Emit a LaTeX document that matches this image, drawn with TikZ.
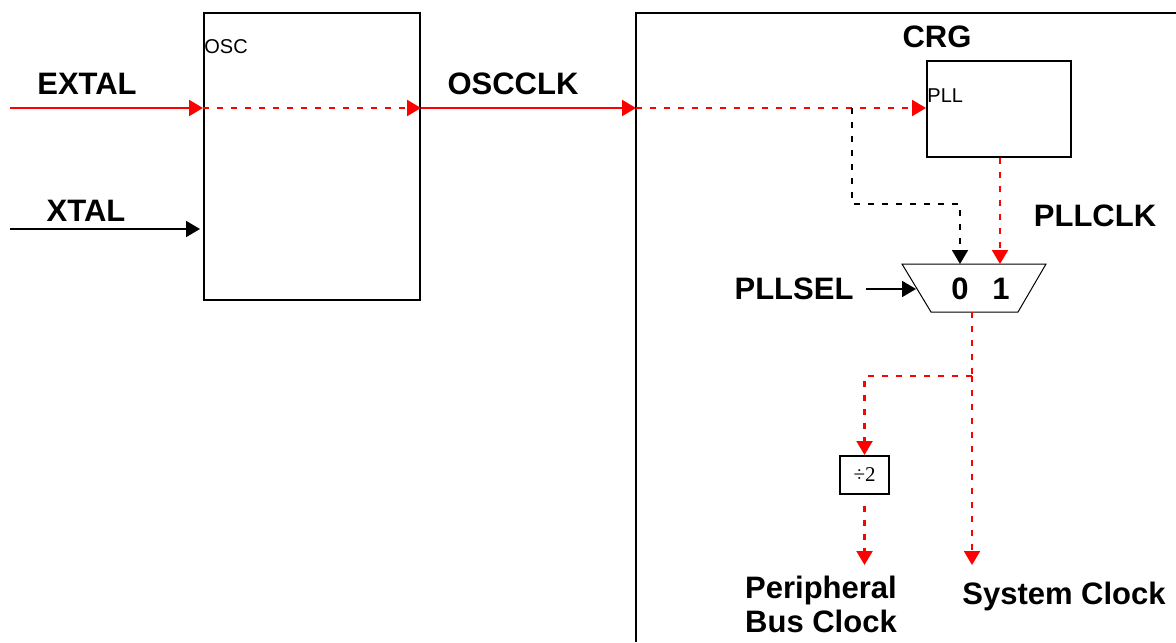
\documentclass[tikz,border=0pt]{standalone}
\usepackage{fontspec}
\setmainfont{Liberation Sans}
\newfontfamily\serifface{Liberation Serif}
\usetikzlibrary{arrows.meta, positioning, calc}
\definecolor{sigred}{HTML}{FF0000}
\definecolor{ink}{HTML}{000000}

\begin{document}
\begin{tikzpicture}[
  x=0.5pt, y=-0.5pt,
  >={Triangle[length=7pt, width=8pt]},
  blockbox/.style={draw=ink, line width=1pt, inner sep=0pt},
  biglabel/.style={font=\fontsize{15.5}{16}\selectfont\bfseries, text=ink, inner sep=0pt},
  smalllabel/.style={font=\fontsize{10}{11}\selectfont, text=ink, inner sep=0pt, anchor=west},
  clkline/.style={sigred, line width=1.1pt},
  clkdash/.style={sigred, line width=1.1pt, dash pattern=on 3pt off 4pt},
  seldash/.style={ink, line width=0.9pt, dash pattern=on 3pt off 4pt},
]

\useasboundingbox (0,0) rectangle (1176,642);

% =============================================
% Oscillator
% =============================================
\node[blockbox, minimum width=108pt, minimum height=143.5pt] (osc) at (312,156.5) {};
\node[smalllabel] (osclbl) at (204,47) {OSC};

\coordinate (extin) at (10,108);
\coordinate (xtalin) at (10,229);
\coordinate (crgin) at (636,108);

\node[biglabel] (extal) at (87,84) {EXTAL};
\node[biglabel] (xtal) at (86,211) {XTAL};
\node[biglabel] (oscclk) at (513,84) {OSCCLK};

\draw[clkline, ->] (extin) -- (extin -| osc.west);
\draw[clkdash, ->] (extin -| osc.west) -- (extin -| osc.east);
\draw[clkline, ->] (extin -| osc.east) -- (crgin);
\draw[ink, line width=1pt, ->] (xtalin) -- ++(190,0);

% =============================================
% CRG
% =============================================
\draw[ink, line width=1pt] (636,642) -- (636,13) -- (1176,13);
\node[biglabel] (crg) at (937,37) {CRG};

\node[blockbox, minimum width=72pt, minimum height=48pt] (pll) at (999,109) {};
\node[smalllabel] (pllbl) at (927,96) {PLL};

% Mux
\coordinate (muxtl) at (902,264);
\coordinate (muxtr) at (1046,264);
\coordinate (muxbr) at (1018,312);
\coordinate (muxbl) at (931,312);
\draw[ink, line width=0.5pt] (muxtl) -- (muxtr) -- (muxbr) -- (muxbl) -- cycle;
\coordinate (mux0) at (960,264);
\coordinate (mux1) at (1000,264);
\coordinate (muxsel) at (916,289);
\coordinate (muxout) at (972,312);
\node[biglabel] (in0) at (960,289) {0};
\node[biglabel] (in1) at (1001,289) {1};

\node[biglabel] (pllclk) at (1095,216) {PLLCLK};
\node[biglabel] (pllsel) at (794,289) {PLLSEL};

\coordinate (tap) at (852,108);
\draw[clkdash, ->] (crgin) -- (crgin -| pll.west);
\draw[seldash, ->] (tap) -- ++(0,96) -| (mux0);
\draw[clkdash, ->] (mux1 |- pll.south) -- (mux1);
\draw[ink, line width=0.9pt, ->] (866,289) -- (muxsel);

% Outputs
\node[blockbox, minimum width=24.5pt, minimum height=19pt,
  font=\serifface\fontsize{10.5}{12}\selectfont] (div) at (864.5,475) {÷2};
\coordinate (split) at (972,376);
\coordinate (sysout) at (972,565);
\coordinate (busout) at (864.5,565);

\draw[clkdash] (muxout) -- (split);
\draw[clkdash, ->] (split) -- (sysout);
\draw[clkdash, ->] (split) -| (div.north);
\draw[clkdash, ->, shorten <=5.5pt] (div.south) -- (busout);

\node[biglabel, align=left] (busclk) at (821,604) {Peripheral\\[1pt]Bus Clock};
\node[biglabel] (sysclk) at (1064,596) {System Clock};

\end{tikzpicture}
\end{document}
